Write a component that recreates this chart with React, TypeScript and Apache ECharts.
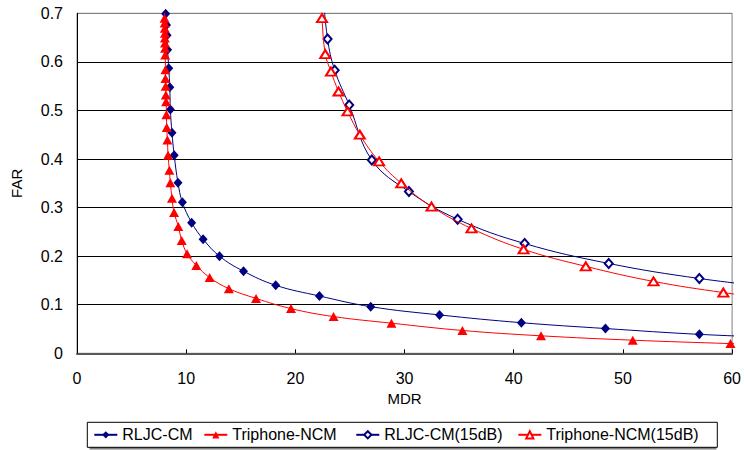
import React, { useEffect, useRef } from "react";
import * as echarts from "echarts";

// RLJC-CM (filled diamonds)
const rljcMdr = [8.1, 8.12, 8.2, 8.25, 8.3, 8.4, 8.5, 8.55, 8.7, 8.9, 9.25, 9.65, 10.5, 11.55, 13.05, 15.25, 18.2, 22.2, 26.9, 33.2, 40.7, 48.4, 57.0, 66.0];
const rljcFar = [0.74, 0.699, 0.676, 0.655, 0.625, 0.587, 0.548, 0.502, 0.454, 0.408, 0.351, 0.311, 0.269, 0.235, 0.2, 0.169, 0.14, 0.118, 0.096, 0.079, 0.063, 0.051, 0.039, 0.031];

// Triphone-NCM (filled triangles)
const triMdr = [8.0, 8.02, 8.03, 8.04, 8.05, 8.05, 8.06, 8.07, 8.08, 8.1, 8.1, 8.12, 8.14, 8.16, 8.19, 8.22, 8.28, 8.34, 8.46, 8.55, 8.7, 8.89, 9.28, 9.59, 10.08, 10.93, 12.15, 13.91, 16.4, 19.6, 23.5, 28.8, 35.3, 42.5, 50.9, 59.85, 66.0];
const triFar = [0.74, 0.69, 0.68, 0.669, 0.659, 0.649, 0.639, 0.628, 0.614, 0.584, 0.566, 0.55, 0.532, 0.518, 0.491, 0.465, 0.439, 0.408, 0.377, 0.351, 0.319, 0.29, 0.261, 0.232, 0.205, 0.181, 0.156, 0.133, 0.113, 0.092, 0.0756, 0.062, 0.047, 0.036, 0.027, 0.02, 0.016];

// RLJC-CM(15dB) (hollow diamonds)
const rljc15Mdr = [22.5, 22.95, 23.6, 24.93, 27.0, 30.4, 34.86, 41.0, 48.7, 57.0, 65.0];
const rljc15Far = [0.75, 0.647, 0.583, 0.511, 0.398, 0.333, 0.276, 0.226, 0.185, 0.154, 0.133];

// Triphone-NCM(15dB) (hollow triangles)
const tri15Mdr = [22.35, 22.44, 22.74, 23.26, 23.95, 24.78, 25.9, 27.67, 29.7, 32.47, 36.13, 40.9, 46.6, 52.8, 59.2, 65.0];
const tri15Far = [0.74, 0.69, 0.616, 0.58, 0.539, 0.498, 0.45, 0.395, 0.35, 0.302, 0.257, 0.214, 0.179, 0.148, 0.125, 0.108];

const seriesNames = ["RLJC-CM", "Triphone-NCM", "RLJC-CM(15dB)", "Triphone-NCM(15dB)"];
const legendTextWidths = [73, 115, 125, 164];

const zip = (xs: number[], ys: number[]) => xs.map((x, i) => [x, ys[i]]);

const FONT = "'Liberation Sans', Arial, sans-serif";

export default function App() {
  const ref = useRef<HTMLDivElement>(null);
  useEffect(() => {
    if (!ref.current) return;
    const chart = echarts.init(ref.current, null, { renderer: "svg" });
    const navy = "#000080";
    const red = "#FF0000";
    const rich: Record<string, any> = {};
    legendTextWidths.forEach((w, i) => {
      rich["w" + i] = { width: w, fontSize: 16, fontFamily: FONT, color: "#000", lineHeight: 17 };
    });
    chart.setOption({
      animation: false,
      backgroundColor: "#fff",
      grid: {
        left: 77,
        top: 13.3,
        width: 656.5,
        height: 340,
        show: true,
        borderColor: "#808080",
        borderWidth: 1,
        containLabel: false,
      },
      graphic: [
        {
          type: "rect",
          left: 89.5,
          top: 424.5,
          shape: { width: 627, height: 25 },
          style: { fill: "#808080" },
          z: 0,
        },
      ],
      legend: {
        left: 87.3,
        top: 422.3,
        orient: "horizontal",
        padding: [4, 7, 4, 6],
        itemGap: 8,
        itemWidth: 23,
        itemHeight: 9,
        backgroundColor: "#fff",
        borderColor: "#000",
        borderWidth: 1,
        borderRadius: 0,
        data: seriesNames,
        formatter: (name: string) => `{w${seriesNames.indexOf(name)}|${name}}`,
        textStyle: { fontSize: 16, fontFamily: FONT, color: "#000", lineHeight: 17, rich },
        z: 5,
      },
      xAxis: {
        type: "value",
        min: 0,
        max: 60,
        interval: 10,
        name: "MDR",
        nameLocation: "middle",
        nameGap: 35,
        nameTextStyle: { fontSize: 15, fontFamily: FONT, color: "#000" },
        axisLine: { show: true, onZero: false, lineStyle: { color: "#595959", width: 2 } },
        axisTick: { show: true, inside: true, length: 4, lineStyle: { color: "#000" } },
        axisLabel: { fontSize: 16, fontFamily: FONT, color: "#000", margin: 17 },
        splitLine: { show: false },
      },
      yAxis: {
        type: "value",
        min: 0,
        max: 0.7,
        interval: 0.1,
        name: "FAR",
        nameLocation: "middle",
        nameGap: 53,
        nameRotate: 90,
        nameTextStyle: { fontSize: 15, fontFamily: FONT, color: "#000" },
        axisLine: { show: true, lineStyle: { color: "#000", width: 1 } },
        axisTick: { show: false },
        axisLabel: { fontSize: 16, fontFamily: FONT, color: "#000", margin: 14 },
        splitLine: {
          show: true,
          lineStyle: { color: ["#000", "#000", "#000", "#000", "#000", "#000", "#000", "#808080"], width: 1 },
        },
      },
      series: [
        {
          name: seriesNames[0],
          type: "line",
          data: zip(rljcMdr, rljcFar),
          smooth: 0.4,
          symbol: "diamond",
          symbolSize: [9, 10],
          showSymbol: true,
          clip: true,
          lineStyle: { color: navy, width: 1 },
          itemStyle: { color: navy },
          z: 2,
        },
        {
          name: seriesNames[1],
          type: "line",
          data: zip(triMdr, triFar),
          smooth: 0.4,
          symbol: "triangle",
          symbolSize: [10, 9],
          clip: true,
          lineStyle: { color: red, width: 1 },
          itemStyle: { color: red },
          z: 3,
        },
        {
          name: seriesNames[2],
          type: "line",
          data: zip(rljc15Mdr, rljc15Far),
          smooth: 0.4,
          symbol: "emptyDiamond",
          symbolSize: [8, 9],
          clip: true,
          lineStyle: { color: navy, width: 1 },
          itemStyle: { color: navy, borderColor: navy, borderWidth: 1 },
          z: 2,
        },
        {
          name: seriesNames[3],
          type: "line",
          data: zip(tri15Mdr, tri15Far),
          smooth: 0.4,
          symbol: "emptyTriangle",
          symbolSize: [10, 8],
          clip: true,
          lineStyle: { color: red, width: 1 },
          itemStyle: { color: red, borderColor: red, borderWidth: 1 },
          z: 3,
        },
      ],
    });
    return () => chart.dispose();
  }, []);
  return (
    <div
      ref={ref}
      style={{ position: "absolute", left: 0, top: 0, width: 744, height: 450, background: "#fff" }}
    />
  );
}
